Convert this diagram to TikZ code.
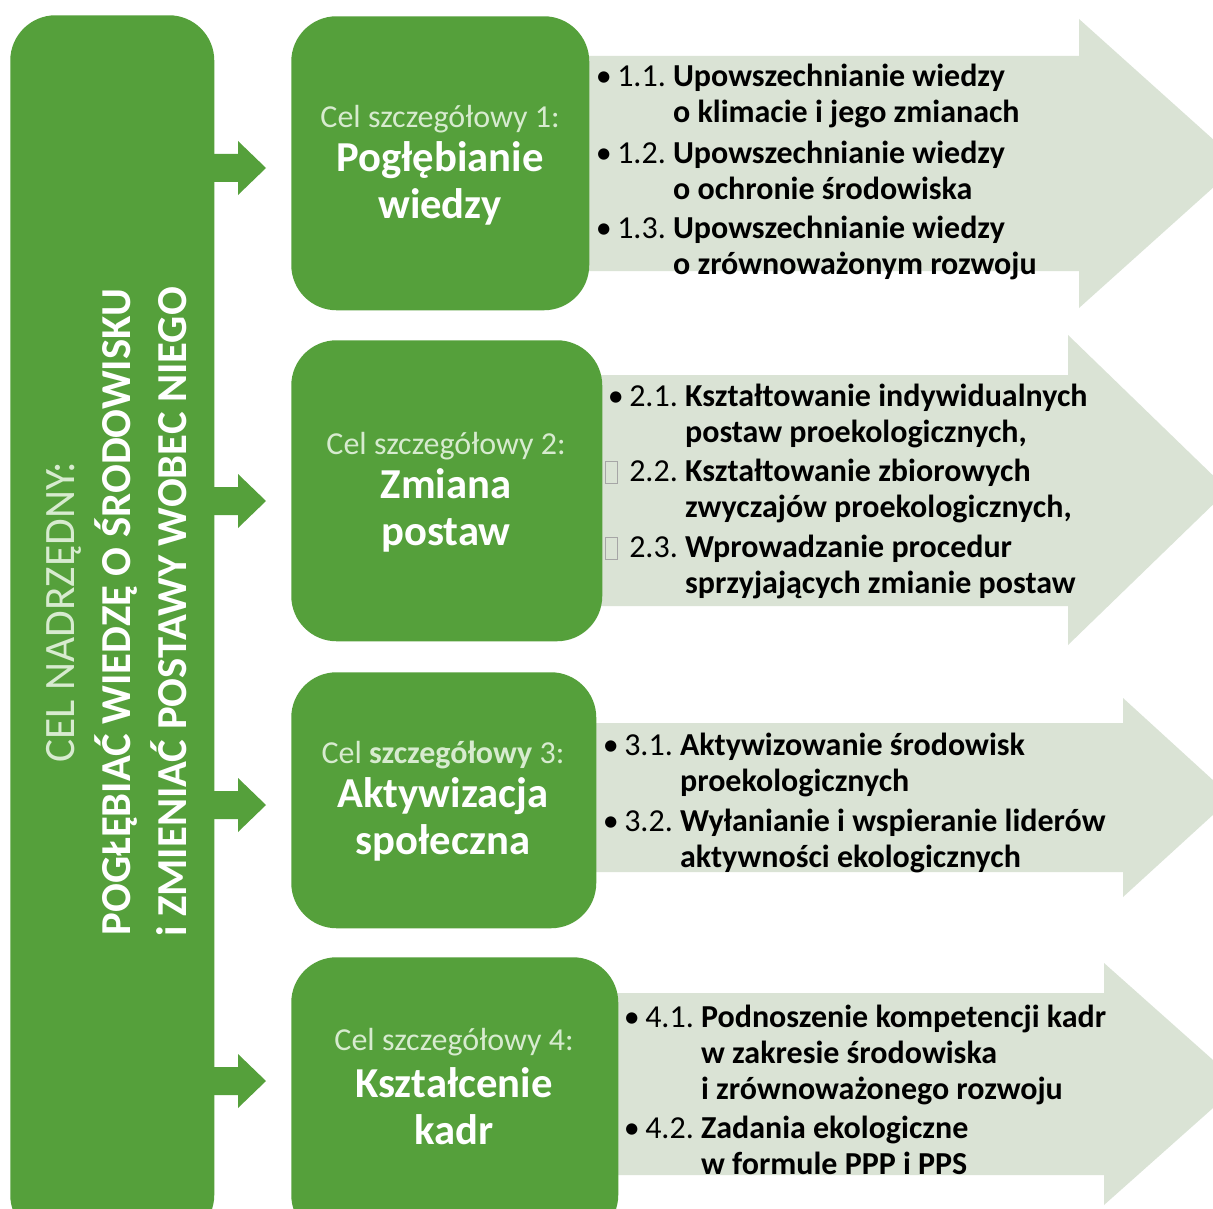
\documentclass[tikz,border=0pt]{standalone}
\usepackage{fontspec}
\setmainfont{Carlito}
\usetikzlibrary{calc}
\definecolor{dg}{HTML}{55A03B}
\definecolor{lg}{HTML}{DAE3D5}
\definecolor{subc}{HTML}{D7EBCF}
\newcommand\tofu{{\color{black!35}\setlength\fboxsep{0pt}\setlength\fboxrule{0.6pt}\fbox{\rule[-1pt]{0pt}{16pt}\hspace{8.5pt}}}}
\newcommand\mk[1]{\makebox[18pt][l]{#1}}
\newenvironment{itemtab}{\begin{tabular}{@{}l@{}l@{\ }l@{}}}{\end{tabular}}
\tikzset{
  gbox/.style={fill=dg, draw=none, rounded corners=34pt, rectangle, inner sep=0pt, anchor=north west},
  bigarrow/.style={fill=lg, draw=none},
  linkarrow/.style={fill=dg, draw=none},
  itemtxt/.style={anchor=west, inner sep=0pt, align=left, font=\fontsize{24}{27}\selectfont},
  subtxt/.style={inner sep=0pt, text=subc, font=\fontsize{24}{28}\selectfont},
  titletxt/.style={inner sep=0pt, text=white, align=center, font=\fontsize{32}{35}\selectfont\bfseries},
}
\begin{document}
\begin{tikzpicture}[x=0.75pt,y=-0.75pt]
\useasboundingbox (0,0) rectangle (1213,1209);
\fill[white] (0,0) rectangle (1213,1209);
\clip (0,0) rectangle (1213,1209);

% big light arrows
\fill[bigarrow] (540,56) -- (1079,56) -- (1079,19) -- (1240,163.5) -- (1079,308) -- (1079,271) -- (540,271) -- cycle;
\fill[bigarrow] (540,375) -- (1068,375) -- (1068,335) -- (1228,490) -- (1068,645) -- (1068,606) -- (540,606) -- cycle;
\fill[bigarrow] (540,723) -- (1123,723) -- (1123,698) -- (1232,797.5) -- (1123,897) -- (1123,872) -- (540,872) -- cycle;
\fill[bigarrow] (560,993) -- (1104,993) -- (1104,963) -- (1240,1084) -- (1104,1205) -- (1104,1175) -- (560,1175) -- cycle;

% boxes
\node[gbox, minimum width=153pt, minimum height=918.75pt] (L) at (10,15) {};
\node[gbox, minimum width=223.5pt, minimum height=220.5pt] (c1) at (291,16) {};
\node[gbox, minimum width=233.25pt, minimum height=225.75pt] (c2) at (291,340) {};
\node[gbox, minimum width=228.75pt, minimum height=192pt] (c3) at (291,672) {};
\node[gbox, minimum width=245.25pt, minimum height=212.25pt] (c4) at (291,957) {};

% link arrows
\coordinate (y1) at (0,168);
\coordinate (y2) at (0,501);
\coordinate (y3) at (0,805);
\coordinate (y4) at (0,1081);
\foreach \yy/\cc in {y1/c1,y2/c2,y3/c3,y4/c4}{
  \fill[linkarrow] ($(L.east|-\yy)+(-4,-14)$) -- ($(\cc.west|-\yy)+(-53,-14)$) -- ($(\cc.west|-\yy)+(-53,-27)$) -- ($(\cc.west|-\yy)+(-25,0)$) -- ($(\cc.west|-\yy)+(-53,27)$) -- ($(\cc.west|-\yy)+(-53,14)$) -- ($(L.east|-\yy)+(-4,14)$) -- cycle;
}

% vertical main text
\node[rotate=90, inner sep=0pt, align=center, text=white, font=\fontsize{32}{42}\selectfont] (V) at (117,612)
  {{\color{subc}\fontsize{32.5}{42}\selectfont CEL NADRZĘDNY:}\\ \textbf{POGŁĘBIAĆ WIEDZĘ O ŚRODOWISKU}\\ \textbf{i ZMIENIAĆ POSTAWY WOBEC NIEGO}};

% box texts
\node[subtxt] (s1) at (440,119) {Cel szczegółowy 1:};
\node[titletxt] (t1) at (440,183.5) {Pogłębianie\\wiedzy};
\node[subtxt] (s2) at (446,446) {Cel szczegółowy 2:};
\node[titletxt] (t2) at (446,510.5) {Zmiana\\postaw};
\node[subtxt] (s3) at (443,755) {Cel \textbf{szczegółowy} 3:};
\node[titletxt] (t3) at (443,819.5) {Aktywizacja\\społeczna};
\node[subtxt] (s4) at (454,1042) {Cel szczegółowy 4:};
\node[titletxt] (t4) at (454,1106) {Kształcenie\\kadr};

% items
\node[itemtxt] (i11) at (593,97) {\begin{itemtab}\mk{\hspace{2pt}•} & 1.1. & \textbf{Upowszechnianie wiedzy}\\ & & \textbf{o klimacie i jego zmianach}\end{itemtab}};
\node[itemtxt] (i12) at (593,174) {\begin{itemtab}\mk{\hspace{2pt}•} & 1.2. & \textbf{Upowszechnianie wiedzy}\\ & & \textbf{o ochronie środowiska}\end{itemtab}};
\node[itemtxt] (i13) at (593,249.5) {\begin{itemtab}\mk{\hspace{2pt}•} & 1.3. & \textbf{Upowszechnianie wiedzy}\\ & & \textbf{o zrównoważonym rozwoju}\end{itemtab}};

\node[itemtxt] (i21) at (605,417) {\begin{itemtab}\mk{\hspace{2pt}•} & 2.1. & \textbf{Kształtowanie indywidualnych}\\ & & \textbf{postaw proekologicznych,}\end{itemtab}};
\node[itemtxt] (i22) at (605,492.5) {\begin{itemtab}\mk{\tofu} & 2.2. & \textbf{Kształtowanie zbiorowych}\\ & & \textbf{zwyczajów proekologicznych,}\end{itemtab}};
\node[itemtxt] (i23) at (605,568.5) {\begin{itemtab}\mk{\tofu} & 2.3. & \textbf{Wprowadzanie procedur}\\ & & \textbf{sprzyjających zmianie postaw}\end{itemtab}};

\node[itemtxt] (i31) at (600,766.5) {\begin{itemtab}\mk{\hspace{2pt}•} & 3.1. & \textbf{Aktywizowanie środowisk}\\ & & \textbf{proekologicznych}\end{itemtab}};
\node[itemtxt] (i32) at (600,842.5) {\begin{itemtab}\mk{\hspace{2pt}•} & 3.2. & \textbf{Wyłanianie i wspieranie liderów}\\ & & \textbf{aktywności ekologicznych}\end{itemtab}};

\node[itemtxt] (i41) at (621,1056) {\begin{itemtab}\mk{\hspace{2pt}•} & 4.1. & \textbf{Podnoszenie kompetencji kadr}\\ & & \textbf{w zakresie środowiska}\\ & & \textbf{i zrównoważonego rozwoju}\end{itemtab}};
\node[itemtxt] (i42) at (621,1149.5) {\begin{itemtab}\mk{\hspace{2pt}•} & 4.2. & \textbf{Zadania ekologiczne}\\ & & \textbf{w formule PPP i PPS}\end{itemtab}};
\end{tikzpicture}
\end{document}
